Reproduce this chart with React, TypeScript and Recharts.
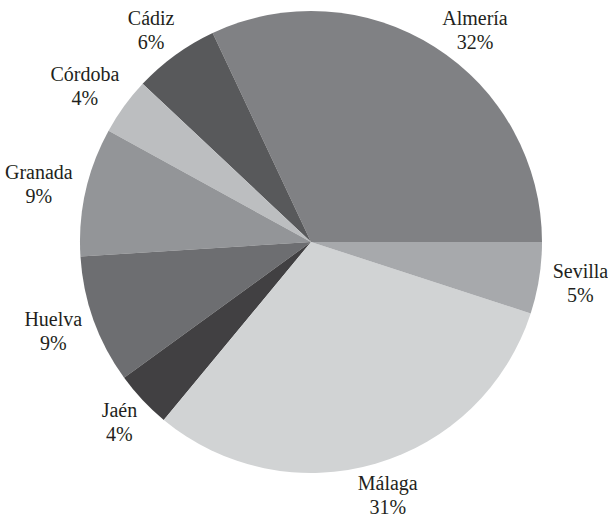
import { PieChart, Pie, Cell } from "recharts";

const PROVINCES = ["Almería", "Cádiz", "Córdoba", "Granada", "Huelva", "Jaén", "Málaga", "Sevilla"];
const SHARES = [32, 6, 4, 9, 9, 4, 31, 5];
const COLORS = ["#808184", "#58595b", "#bcbec0", "#939598", "#6d6e71", "#414042", "#d1d3d4", "#a7a9ac"];

const data = PROVINCES.map((name, i) => ({ name, value: SHARES[i] }));

const RADIAN = Math.PI / 180;
const FONT = "Liberation Serif";
const FONT_SIZE = 20;
const TOP_LIMIT = 212; // keep labels inside the picture

const CSS = `
.pie-wrap svg text { font-family: "Liberation Serif", "Times New Roman", serif !important; font-size: 20px !important; font-weight: normal !important; }
.pie-wrap .recharts-surface { overflow: visible; }
`;

let ctx: CanvasRenderingContext2D | null = null;
function textWidth(s: string) {
  if (!ctx) ctx = document.createElement("canvas").getContext("2d");
  if (!ctx) return s.length * 9.3;
  ctx.font = `${FONT_SIZE}px "${FONT}", serif`;
  return ctx.measureText(s).width;
}

function renderLabel(props: any) {
  const { cx, cy, midAngle, outerRadius, name, value } = props;
  const cos = Math.cos(midAngle * RADIAN);
  const sin = Math.sin(midAngle * RADIAN);
  const anchor = outerRadius + 14;
  const hw = Math.max(textWidth(String(name)), textWidth(`${value}%`)) / 2;
  const hh = 19;
  // outside-end label: box pushed out from the anchor point
  let dx = anchor * cos + hw * cos;
  let dy = -(anchor * sin + hh * sin);
  if (dy < -TOP_LIMIT) {
    const rr = Math.hypot(dx, dy);
    dy = -TOP_LIMIT;
    dx = Math.sign(dx) * Math.sqrt(rr * rr - dy * dy);
  }
  const x = cx + dx;
  const y = cy + dy;
  return (
    <g>
      <text x={x} y={y - 5.5} textAnchor="middle" fill="#231f20" style={{ fontFamily: FONT, fontSize: FONT_SIZE }}>
        {name}
      </text>
      <text x={x} y={y + 18.5} textAnchor="middle" fill="#231f20" style={{ fontFamily: FONT, fontSize: FONT_SIZE }}>
        {value}%
      </text>
    </g>
  );
}

export default function App() {
  return (
    <div className="pie-wrap" style={{ position: "absolute", left: 0, top: 0, width: 608, height: 524, background: "#fff" }}>
      <style>{CSS}</style>
      <PieChart width={608} height={524} margin={{ top: 0, right: 0, bottom: 0, left: 0 }}>
        <Pie
          data={data}
          dataKey="value"
          nameKey="name"
          cx={311}
          cy={242}
          outerRadius={231}
          startAngle={0}
          endAngle={360}
          stroke="none"
          label={renderLabel}
          labelLine={false}
          isAnimationActive={false}
        >
          {data.map((entry, index) => (
            <Cell key={`cell-${index}`} fill={COLORS[index]} />
          ))}
        </Pie>
      </PieChart>
    </div>
  );
}
